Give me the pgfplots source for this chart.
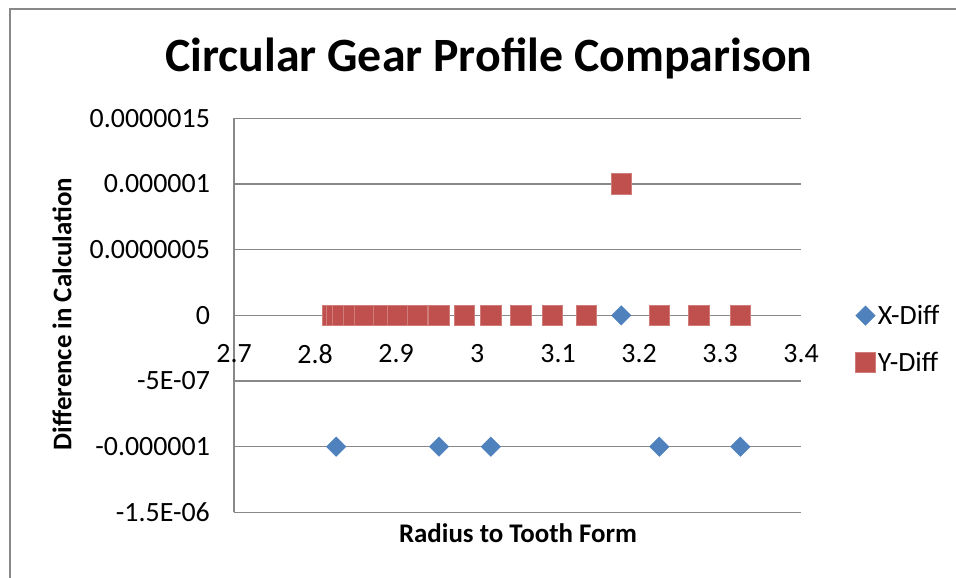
\documentclass[border=0pt]{standalone}
\usepackage{pgfplots}
\pgfplotsset{compat=1.18}
\usepackage{fontspec}
\setmainfont{Carlito}
\definecolor{xblue}{HTML}{4F81BD}
\definecolor{yred}{HTML}{C0504D}
\definecolor{gridgray}{HTML}{888888}
\begin{document}
\begin{tikzpicture}[x=1bp,y=1bp]
\useasboundingbox (0,0) rectangle (956,578);
\draw[gridgray, line width=1.5bp] (10,0) -- (10,569) -- (956,569);
\node[font=\fontsize{48}{56}\bfseries\selectfont] at (489,520) {Circular Gear Profile Comparison};
\node[font=\fontsize{27}{32}\bfseries\selectfont, rotate=90] at (62,264) {Difference in Calculation};
\node[font=\fontsize{27}{32}\bfseries\selectfont] at (518,45) {Radius to Tooth Form};
\begin{axis}[at={(289,50)}, anchor=south west, scale only axis,
  width=567bp, height=394bp,
  xmin=2.7, xmax=3.4, ymin=-1.5e-6, ymax=1.5e-6,
  axis x line=middle, axis y line=left,
  hide obscured x ticks=false, hide obscured y ticks=false,
  axis line style={-, gridgray, line width=1.5bp},
  major tick length=0pt,
  ymajorgrids, grid style={gridgray, line width=1.3bp},
  scaled y ticks=false, scaled x ticks=false,
  xtick={2.7,2.8,2.9,3.0,3.1,3.2,3.3,3.4},
  xticklabels={2.7,2.8,2.9,3,3.1,3.2,3.3,3.4},
  ytick={-1.5e-6,-1e-6,-0.5e-6,0,0.5e-6,1e-6,1.5e-6},
  yticklabels={-1.5E-06,-0.000001,-5E-07,0,0.0000005,0.000001,0.0000015},
  ticklabel style={font=\fontsize{28}{33}\selectfont, inner sep=0pt},
  xticklabel style={anchor=north, yshift=-29bp},
  yticklabel style={anchor=east, xshift=-24bp},
  /pgf/number format/assume math mode=true,
  legend style={at={(1.095,0.44)}, anchor=west, draw=none, fill=none,
    font=\fontsize{28}{33}\selectfont, row sep=22bp, inner sep=0pt},
  legend cell align=left,
  clip=false,
]
\addplot[only marks, mark=square*, mark size=6.9bp,
  mark options={rotate=45, fill=xblue, draw=xblue}] coordinates {
(2.821,0) (2.826,-1e-6) (2.834,0) (2.847,0) (2.861,0) (2.884,0) (2.902,0)
(2.926,0) (2.953,-1e-6) (2.984,0) (3.017,-1e-6) (3.054,0) (3.093,0)
(3.135,0) (3.178,0) (3.225,-1e-6) (3.274,0) (3.325,-1e-6)
};
\addlegendentry{X-Diff}
\addplot[only marks, mark=square*, mark size=10.3bp,
  mark options={fill=yred, draw=yred!75!white, line width=0.6bp}] coordinates {
(2.821,0) (2.826,0) (2.834,0) (2.847,0) (2.861,0) (2.884,0) (2.902,0)
(2.926,0) (2.953,0) (2.984,0) (3.017,0) (3.054,0) (3.093,0)
(3.135,0) (3.178,1e-6) (3.225,0) (3.274,0) (3.325,0)
};
\addlegendentry{Y-Diff}
\end{axis}
\end{tikzpicture}
\end{document}
